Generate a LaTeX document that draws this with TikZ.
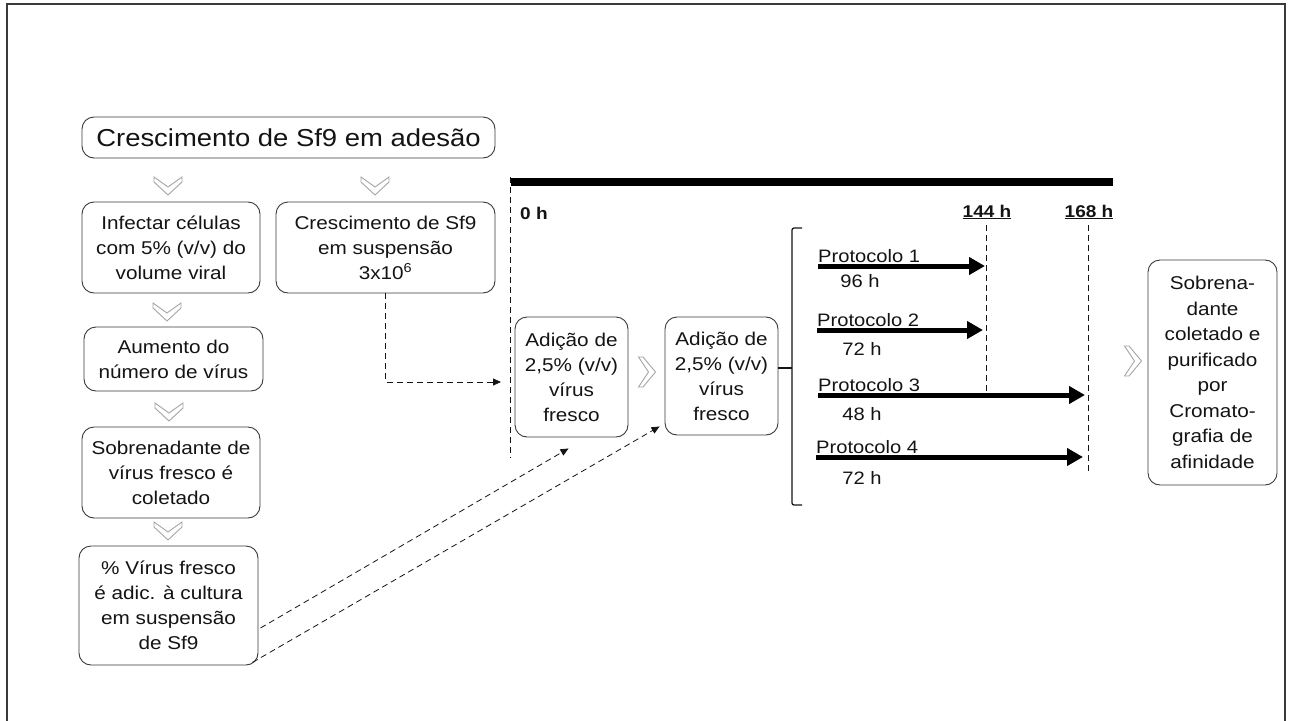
\documentclass[tikz,border=0pt]{standalone}
\usepackage{fontspec}
\setmainfont{Liberation Sans}[FakeStretch=1.12]
\usetikzlibrary{arrows.meta,calc}
\definecolor{txt}{HTML}{141414}
\definecolor{boxc}{HTML}{3A3A3A}
\definecolor{chevc}{HTML}{A5A5A5}
\begin{document}
\begin{tikzpicture}[x=1pt,y=-1pt,
  box/.style={draw=boxc, rounded corners=12pt, line width=0.9pt, align=center,
    inner sep=0pt, text=txt, font=\fontsize{18.5}{25}\selectfont},
  chev/.style={draw=chevc, fill=white, line width=0.9pt, line join=miter},
  chevd/.pic={\draw[chev] (-14,-9) -- (0,1) -- (14,-9) -- (14,-4) -- (0,9) -- (-14,-4) -- cycle;},
  chevr/.pic={\draw[chev] (-8.5,-15) -- (1.5,0) -- (-8.5,15) -- (-4,15) -- (8.5,0) -- (-4,-15) -- cycle;},
  dashln/.style={draw=txt, line width=0.8pt, dash pattern=on 6pt off 4pt},
  dasharrow/.style={dashln, -{Triangle[length=8pt,width=7pt]}},
  parr/.style={draw=black, line width=5pt, -{Triangle[length=16pt,width=17pt]}},
  ptext/.style={text=txt, inner sep=0pt, font=\fontsize{18}{22}\selectfont},
  htext/.style={text=txt, inner sep=0pt, font=\bfseries\fontsize{17}{20}\selectfont},
]
\useasboundingbox (0,0) rectangle (1290,720);
\fill[white] (0,0) rectangle (1290,720);
% frame
\draw[line width=2pt, draw=boxc] (7,722) -- (7,4) -- (1285,4) -- (1285,722);

% left column
\node[box, minimum width=413, minimum height=41, font=\fontsize{24.5}{28}\selectfont] (title) at (288.5,137.5) {Crescimento de Sf9 em adesão};
\pic at (168,186) {chevd};
\pic at (375,186) {chevd};
\node[box, minimum width=178, minimum height=91] (infect) at (171,247.5) {Infectar células\\com 5\% (v/v) do\\volume viral};
\node[box, minimum width=219, minimum height=91] (cresc) at (385.5,247.5) {Crescimento de Sf9\\em suspensão\\3x10\textsuperscript{6}};
\pic at (167,312) {chevd};
\node[box, minimum width=179, minimum height=64] (aum) at (173.5,359) {Aumento do\\número de vírus};
\pic at (169,412) {chevd};
\node[box, minimum width=178, minimum height=91] (sobr) at (171,472.5) {Sobrenadante de\\vírus fresco é\\coletado};
\pic at (168,531) {chevd};
\node[box, minimum width=179, minimum height=119] (virus) at (168.5,605.5) {\% Vírus fresco\\é adic. à cultura\\em suspensão\\de Sf9};

% time line
\draw[line width=7.5pt, draw=black] (511,182) -- (1113,182);
\coordinate (z0) at (510,177);
\coordinate (z1) at (510,458);
\draw[dashln] (z0) -- (z1);
\node[htext, anchor=west] (h0) at (520,213) {0 h};
\node[htext] (h144) at (987,212) {\underline{144 h}};
\node[htext] (h168) at (1089,212) {\underline{168 h}};
\coordinate (l144a) at (986,225);
\coordinate (l144b) at (986,392);
\coordinate (l168a) at (1088,225);
\coordinate (l168b) at (1088,473);
\draw[dashln] (l144a) -- (l144b);
\draw[dashln] (l168a) -- (l168b);

% additions
\node[box, minimum width=113, minimum height=120] (ad1) at (571.5,377) {Adição de\\2,5\% (v/v)\\vírus\\fresco};
\pic at (647,372) {chevr};
\node[box, minimum width=113, minimum height=118] (ad2) at (721.5,376) {Adição de\\2,5\% (v/v)\\vírus\\fresco};

% dashed connectors
\coordinate (t0) at (501,382);
\draw[dasharrow] (cresc.south) |- (t0);
\draw[dasharrow] ($(virus.east)+(2,22.5)$) -- ($(ad1.south)+(-3,11)$);
\draw[dasharrow] ($(virus.south east)+(-6,-3)$) -- ($(ad2.south west)+(-5,-9)$);

% bracket
\coordinate (bt) at (802,228);
\coordinate (bb) at (802,505);
\coordinate (bm) at (792,368);
\draw[draw=txt, line width=1.2pt, rounded corners=2pt] (bt) -- (792,228) -- (792,505) -- (bb);
\draw[draw=txt, line width=1.2pt] (ad2.east |- bm) -- (bm);

% protocols
\node[ptext, anchor=base west] (p1) at (818,262.5) {\underline{Protocolo 1}};
\coordinate (p1s) at (818,266); \coordinate (p1e) at (985,266);
\draw[parr] (p1s) -- (p1e);
\node[ptext] (d1) at (860,281) {96 h};

\node[ptext, anchor=base west] (p2) at (817,326.5) {\underline{Protocolo 2}};
\coordinate (p2s) at (817,330); \coordinate (p2e) at (983,330);
\draw[parr] (p2s) -- (p2e);
\node[ptext] (d2) at (862,349) {72 h};

\node[ptext, anchor=base west] (p3) at (818,391.5) {\underline{Protocolo 3}};
\coordinate (p3s) at (818,395); \coordinate (p3e) at (1085,395);
\draw[parr] (p3s) -- (p3e);
\node[ptext] (d3) at (862,414) {48 h};

\node[ptext, anchor=base west] (p4) at (816,453.5) {\underline{Protocolo 4}};
\coordinate (p4s) at (816,457); \coordinate (p4e) at (1083,457);
\draw[parr] (p4s) -- (p4e);
\node[ptext] (d4) at (862,478) {72 h};

% final
\pic at (1133,361) {chevr};
\node[box, minimum width=129, minimum height=225, font=\fontsize{18.5}{25.5}\selectfont] (fin) at (1212.5,372.5) {Sobrena-\\dante\\coletado e\\purificado\\por\\Cromato-\\grafia de\\afinidade};
\end{tikzpicture}
\end{document}
